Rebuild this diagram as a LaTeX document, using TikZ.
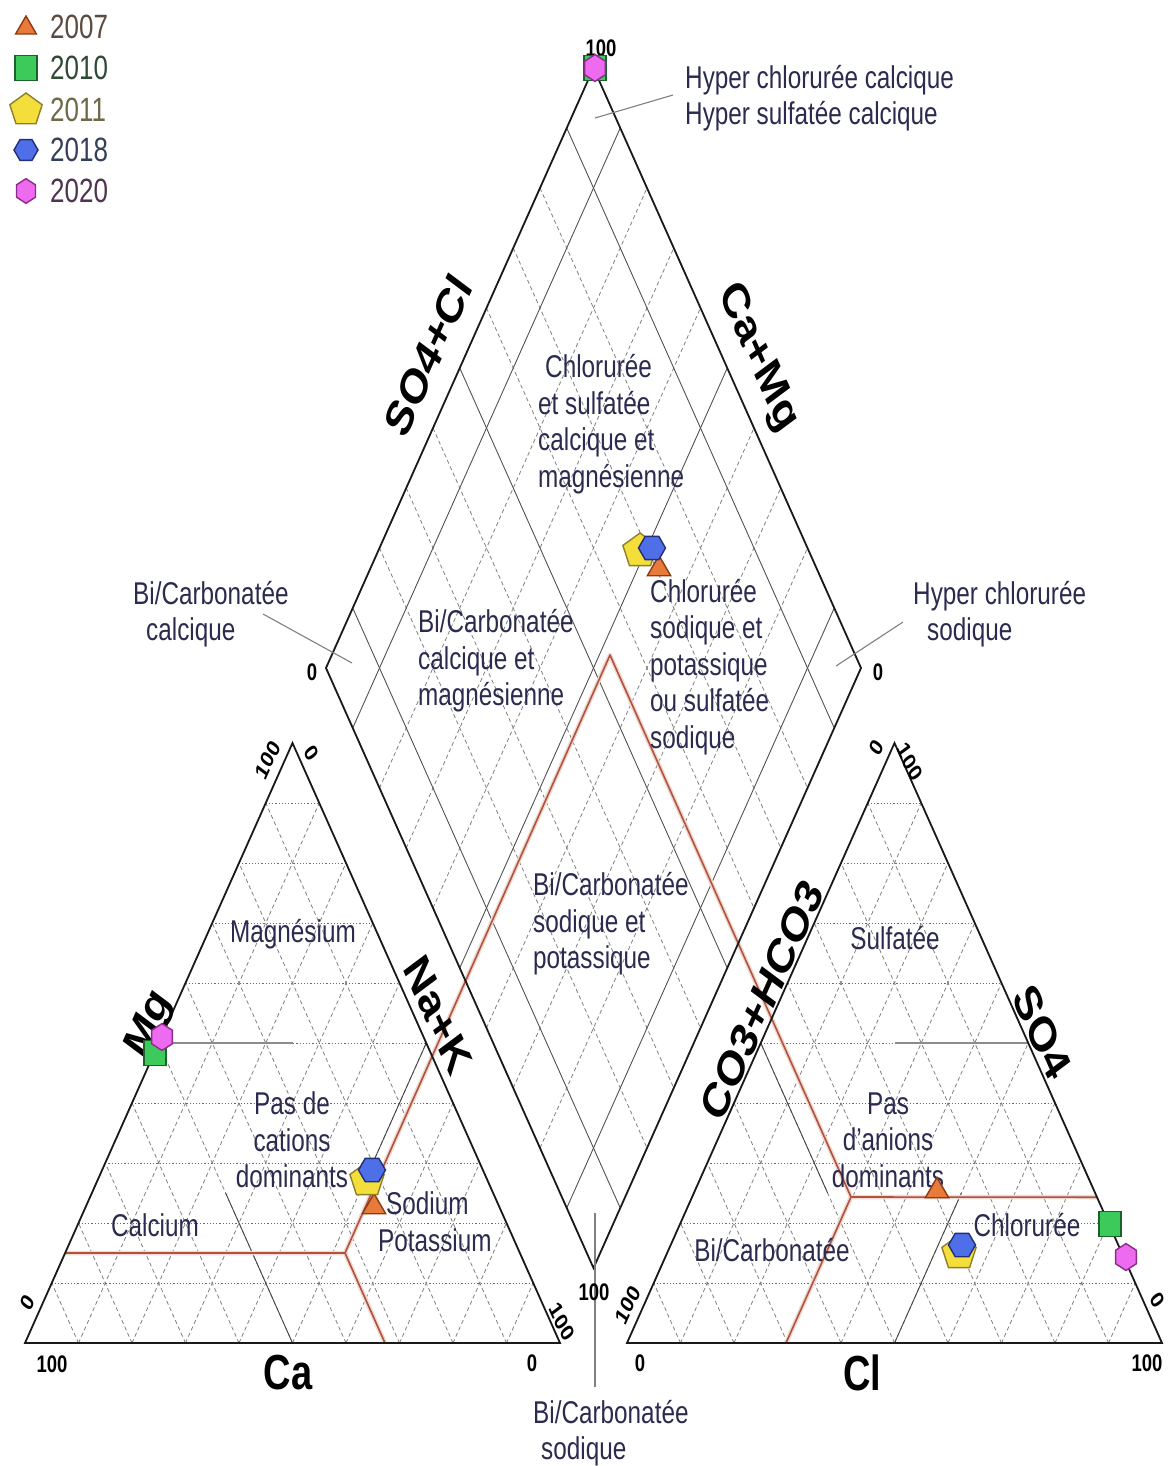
\documentclass[tikz,border=0pt]{standalone}
\usepackage{fontspec}
\setmainfont{Liberation Sans}
\usetikzlibrary{calc,shapes.geometric}
\definecolor{ink}{HTML}{2B2B50}
\definecolor{facies}{HTML}{B3533C}
\definecolor{c07f}{HTML}{E87A3C}\definecolor{c07d}{HTML}{8B3A12}
\definecolor{c10f}{HTML}{3CCB5A}\definecolor{c10d}{HTML}{1E5F2E}
\definecolor{c11f}{HTML}{F4DE3C}\definecolor{c11d}{HTML}{8F7F2A}
\definecolor{c18f}{HTML}{4F6FE8}\definecolor{c18d}{HTML}{1F2F78}
\definecolor{c20f}{HTML}{EE6AEE}\definecolor{c20d}{HTML}{8A2C8C}
\definecolor{t07}{HTML}{5C4A3E}\definecolor{t10}{HTML}{2E4A34}
\definecolor{t11}{HTML}{6E6A48}\definecolor{t18}{HTML}{34405A}
\definecolor{t20}{HTML}{4E3450}
\begin{document}
\begin{tikzpicture}[x=1pt,y=-1pt,
  frame/.style={line width=1.8pt,draw=black!90,line join=miter},
  solidgrid/.style={line width=0.9pt,draw=black!68},
  dashgrid/.style={line width=0.8pt,draw=black!50,dash pattern=on 4pt off 3pt},
  dotgrid/.style={line width=0.9pt,draw=black!58,dash pattern=on 1.2pt off 2pt},
  halfline/.style={line width=1.3pt,draw=black!45},
  blackhalf/.style={line width=0.9pt,draw=black!72},
  redline/.style={line width=1.6pt,draw=facies,line join=round},
  redhalo/.style={line width=4.5pt,draw=facies!22,line join=round},
  leader/.style={line width=1.1pt,draw=black!50},
  lbl/.style={font=\fontsize{24.3}{28.2}\selectfont,text=ink,inner sep=0pt,align=left,yscale=1.296},
  num/.style={font=\fontsize{18.5}{20}\selectfont\bfseries,inner sep=0pt,yscale=1.296},
  axis/.style={font=\fontsize{38}{40}\selectfont\bfseries,inner sep=0pt,yscale=1.296},
  leg/.style={font=\fontsize{26}{28}\selectfont,inner sep=0pt,anchor=west,yscale=1.296},
  mk/.style={inner sep=0pt,outer sep=0pt,line width=1.4pt},
  m07/.style={mk,regular polygon,regular polygon sides=3,minimum size=27pt,fill=c07f,draw=c07d},
  m10/.style={mk,rectangle,minimum width=22pt,minimum height=25pt,fill=c10f,draw=c10d},
  m11/.style={mk,regular polygon,regular polygon sides=5,minimum size=36pt,fill=c11f,draw=c11d},
  m18/.style={mk,regular polygon,regular polygon sides=6,minimum size=27pt,fill=c18f,draw=c18d},
  m20/.style={mk,regular polygon,regular polygon sides=6,shape border rotate=90,minimum size=24pt,yscale=1.12,fill=c20f,draw=c20d}
]
\fill[white] (0,0) rectangle (1171,1466);
\useasboundingbox (0,0) rectangle (1171,1466);

% corners: cation triangle, anion triangle, diamond
\coordinate (A) at (25,1343);   \coordinate (B) at (560,1343);  \coordinate (C) at (292.5,743);
\coordinate (D) at (627,1343);  \coordinate (E) at (1162,1343); \coordinate (F) at (894.5,743);
\coordinate (P) at (593.5,1268);\coordinate (Q) at (326,668);   \coordinate (R) at (593.5,68); \coordinate (S) at (861,668);

% triangle grids
\foreach \T/\U/\V in {A/B/C,D/E/F}{
  \foreach \i in {1,...,9}{
    \pgfmathsetmacro\f{\i/10}
    \draw[dotgrid]  ($(\T)!\f!(\V)$) -- ($(\U)!\f!(\V)$);
    \draw[dashgrid] ($(\T)!\f!(\U)$) -- ($(\V)!\f!(\U)$);
    \draw[dashgrid] ($(\T)!\f!(\U)$) -- ($(\T)!\f!(\V)$);
  }
}
% diamond grid
\foreach \i in {2,3,4,6,7,8}{
  \pgfmathsetmacro\f{\i/10}
  \draw[dashgrid] ($(Q)!\f!(P)$) -- ($(R)!\f!(S)$);
  \draw[dashgrid] ($(Q)!\f!(R)$) -- ($(P)!\f!(S)$);
}
\foreach \i in {1,5,9}{
  \pgfmathsetmacro\f{\i/10}
  \draw[solidgrid] ($(Q)!\f!(P)$) -- ($(R)!\f!(S)$);
  \draw[solidgrid] ($(Q)!\f!(R)$) -- ($(P)!\f!(S)$);
}

% half-way dominance lines
\coordinate (mAC) at ($(A)!0.5!(C)$); \coordinate (mBC) at ($(B)!0.5!(C)$); \coordinate (mAB) at ($(A)!0.5!(B)$);
\coordinate (mDF) at ($(D)!0.5!(F)$); \coordinate (mEF) at ($(E)!0.5!(F)$); \coordinate (mDE) at ($(D)!0.5!(E)$);
\draw[halfline] (mAC) -- ($(mAC)!0.5!(mBC)$);
\draw[blackhalf] (mAB) -- ($(mAB)!0.5!(mAC)$);
\draw[blackhalf] (mBC) -- ($(mBC)!0.5!(mAB)$);
\draw[halfline] ($(mDF)!0.5!(mEF)$) -- (mEF);
\draw[blackhalf] (mDF) -- ($(mDF)!0.5!(mDE)$);
\draw[blackhalf] (mDE) -- ($(mDE)!0.5!(mEF)$);

% facies boundaries
\coordinate (J1) at (345,1253); \coordinate (K) at (610,655); \coordinate (J2) at (851,1197);
\coordinate (rl1) at ($(A)!0.15!(C)$); \coordinate (rl2) at (385,1343);
\coordinate (rr1) at ($(E)!0.243!(F)$); \coordinate (rr2) at (786,1343);
\draw[redhalo] (rl1) -- (J1) -- (K) -- (J2) -- (rr1);
\draw[redhalo] (J1) -- (rl2); \draw[redhalo] (J2) -- (rr2);
\draw[redline] (rl1) -- (J1) -- (K) -- (J2) -- (rr1);
\draw[redline] (J1) -- (rl2); \draw[redline] (J2) -- (rr2);

% outlines
\draw[frame] (A) -- (B) -- (C) -- cycle;
\draw[frame] (D) -- (E) -- (F) -- cycle;
\draw[frame] (P) -- (S) -- (R) -- (Q) -- cycle;

% leaders
\coordinate (la1) at (595,118); \coordinate (lb1) at (673,95);
\coordinate (la2) at (352,663); \coordinate (lb2) at (263,614);
\coordinate (la3) at (836,666); \coordinate (lb3) at (903,622);
\coordinate (la4) at (595,1213); \coordinate (lb4) at (595,1387);
\draw[leader] (la1) -- (lb1);
\draw[leader] (la2) -- (lb2);
\draw[leader] (la3) -- (lb3);
\draw[leader] (la4) -- (lb4);

% region labels
\node[lbl,anchor=west] (hcc) at (685,98) {Hyper chlorurée calcique\\Hyper sulfatée calcique};
\node[lbl,anchor=west] (csc) at (538,424) {\hspace*{7pt}Chlorurée\\et sulfatée\\calcique et\\magnésienne};
\node[lbl,anchor=west] (bcc) at (133,614) {Bi/Carbonatée\\\hspace*{13pt}calcique};
\node[lbl,anchor=west] (bcm) at (418,661) {Bi/Carbonatée\\calcique et\\magnésienne};
\node[lbl,anchor=west] (csp) at (650,667) {Chlorurée\\sodique et\\potassique\\ou sulfatée\\sodique};
\node[lbl,anchor=west] (hcs) at (913,614) {Hyper chlorurée\\\hspace*{14pt}sodique};
\node[lbl,anchor=west] (bsp) at (533,924) {Bi/Carbonatée\\sodique et\\potassique};
\node[lbl] (mag) at (293,934) {Magnésium};
\node[lbl,align=center] (pcd) at (292,1140) {Pas de\\cations\\dominants};
\node[lbl,anchor=west] (nak) at (378,1222) {\hspace*{8pt}Sodium\\Potassium};
\node[lbl] (cal) at (155,1225) {Calcium};
\node[lbl] (sul) at (895,938) {Sulfatée};
\node[lbl,align=center] (pad) at (888,1140) {Pas\\d'anions\\dominants};
\node[lbl] (chl) at (1027,1225) {Chlorurée};
\node[lbl] (bca) at (772,1250) {Bi/Carbonatée};
\node[lbl,anchor=west] (bcs) at (533,1433) {Bi/Carbonatée\\\hspace*{8pt}sodique};

% scale numbers
\node[num] (n1) at (601,48) {100};
\node[num] (n2) at (312,672) {0};
\node[num] (n3) at (878,672) {0};
\node[num] (n4) at (52,1364) {100};
\node[num] (n5) at (532,1363) {0};
\node[num,rotate=60] (n6) at (28,1303) {0};
\node[num,rotate=60] (n7) at (268,760) {100};
\node[num,rotate=-60] (n8) at (312,753) {0};
\node[num,rotate=-60] (n9) at (562,1322) {100};
\node[num] (n10) at (640,1363) {0};
\node[num] (n11) at (1147,1363) {100};
\node[num,rotate=60] (n12) at (628,1305) {100};
\node[num,rotate=60] (n13) at (877,748) {0};
\node[num,rotate=-60] (n14) at (910,762) {100};
\node[num,rotate=-60] (n15) at (1158,1300) {0};
\node[num] (n16) at (594,1292) {100};

% axis titles
\node[axis] (xca) at (288,1373) {Ca};
\node[axis] (xcl) at (862,1373) {Cl};
\node[axis,rotate=60] (xmg) at (150,1025) {Mg};
\node[axis,rotate=-60] (xna) at (438,1015) {Na+K};
\node[axis,rotate=60] (xsc) at (428,355) {SO4+Cl};
\node[axis,rotate=-60] (xcm) at (758,358) {Ca+Mg};
\node[axis,rotate=60] (xco) at (762,1000) {CO3+HCO3};
\node[axis,rotate=-60] (xso) at (1042,1032) {SO4};

% samples: diamond
\node[m07] (d07) at (659,569) {};
\node[m11] (d11) at (640,551) {};
\node[m18] (d18) at (652,548) {};
\node[m10] (d10) at (595,68) {};
\node[m20] (d20) at (595,68) {};
% samples: cations
\node[m10] (a10) at (155,1053) {};
\node[m20] (a20) at (162,1037) {};
\node[m07] (a07) at (374,1207) {};
\node[m11] (a11) at (367,1180) {};
\node[m18] (a18) at (372,1170) {};
% samples: anions
\node[m07] (b07) at (937,1191) {};
\node[m10] (b10) at (1110,1224) {};
\node[m20] (b20) at (1126,1257) {};
\node[m11] (b11) at (959,1253) {};
\node[m18] (b18) at (962,1245) {};

% legend
\node[m07,minimum size=24pt] (k07) at (26,28) {};
\node[m10] (k10) at (26,68) {};
\node[m11,minimum size=34pt] (k11) at (26,110) {};
\node[m18,minimum size=24pt] (k18) at (26,150) {};
\node[m20,minimum size=22pt] (k20) at (26,191) {};
\node[leg,text=t07] (g07) at (50,27) {2007};
\node[leg,text=t10] (g10) at (50,68) {2010};
\node[leg,text=t11] (g11) at (50,110) {2011};
\node[leg,text=t18] (g18) at (50,150) {2018};
\node[leg,text=t20] (g20) at (50,191) {2020};
\end{tikzpicture}
\end{document}
